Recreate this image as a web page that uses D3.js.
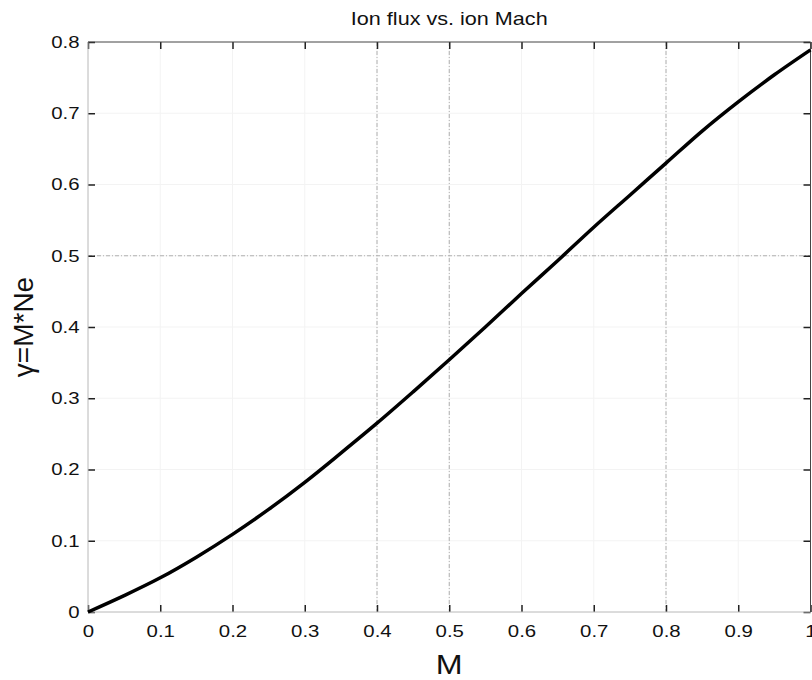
<!DOCTYPE html>
<html>
<head>
<meta charset="utf-8">
<script src="https://cdn.jsdelivr.net/npm/d3@7"></script>
<style>
  body { margin: 0; background: #fff; }
  text { font-family: "Liberation Sans", Arial, sans-serif; fill: #111; }
</style>
</head>
<body>
<div id="chart"></div>
<script>
// Ion flux vs. ion Mach number
const machValues = [0, 0.05, 0.1, 0.15, 0.2, 0.25, 0.3, 0.35, 0.4, 0.45, 0.5,
  0.55, 0.6, 0.65, 0.7, 0.75, 0.8, 0.85, 0.9, 0.95, 1.0];
const fluxValues = [0, 0.023, 0.048, 0.077, 0.109, 0.144, 0.182, 0.223, 0.265, 0.309, 0.354,
  0.400, 0.447, 0.493, 0.540, 0.585, 0.630, 0.675, 0.716, 0.754, 0.789];
const xTicks = [0, 0.1, 0.2, 0.3, 0.4, 0.5, 0.6, 0.7, 0.8, 0.9, 1];
const yTicks = [0, 0.1, 0.2, 0.3, 0.4, 0.5, 0.6, 0.7, 0.8];
// grid lines that still show in the scan
const gridX = [0.4, 0.5, 0.8];
const gridY = [0.5];

const width = 812, height = 680;
const margin = { top: 42, right: 1.5, bottom: 68, left: 88 };
const w = width - margin.left - margin.right;
const h = height - margin.top - margin.bottom;

const svg = d3.select('#chart')
  .append('svg')
  .attr('width', width)
  .attr('height', height);

const g = svg.append('g')
  .attr('transform', `translate(${margin.left},${margin.top})`);

const x = d3.scaleLinear().domain([0, 1]).range([0, w]);
const y = d3.scaleLinear().domain([0, 0.8]).range([h, 0]);

// faint grid everywhere, darker where it is visible
g.append('g').selectAll('line')
  .data(xTicks.slice(1, -1))
  .join('line')
  .attr('x1', d => x(d)).attr('x2', d => x(d))
  .attr('y1', 0).attr('y2', h)
  .attr('stroke', '#f3f3f3');
g.append('g').selectAll('line')
  .data(yTicks.slice(1, -1))
  .join('line')
  .attr('x1', 0).attr('x2', w)
  .attr('y1', d => y(d)).attr('y2', d => y(d))
  .attr('stroke', '#f3f3f3');

g.append('g').selectAll('line')
  .data(gridX)
  .join('line')
  .attr('x1', d => x(d)).attr('x2', d => x(d))
  .attr('y1', 0).attr('y2', h)
  .attr('stroke', '#b0b0b0')
  .attr('stroke-dasharray', '4,2,1,2');
g.append('g').selectAll('line')
  .data(gridY)
  .join('line')
  .attr('x1', 0).attr('x2', w)
  .attr('y1', d => y(d)).attr('y2', d => y(d))
  .attr('stroke', '#b0b0b0')
  .attr('stroke-dasharray', '4,2,1,2');

// axes with inward ticks
const fmt = d => d === 0 || d === 1 ? String(d) : d3.format('.1f')(d);

const xAxis = g.append('g')
  .attr('transform', `translate(0,${h})`)
  .call(d3.axisBottom(x).tickValues(xTicks).tickFormat(fmt)
    .tickSizeInner(-7).tickSizeOuter(0).tickPadding(13));
xAxis.selectAll('text')
  .attr('font-size', 17)
  .attr('transform', 'scale(1.2,1)');

const yAxis = g.append('g')
  .call(d3.axisLeft(y).tickValues(yTicks).tickFormat(fmt)
    .tickSizeInner(-7).tickSizeOuter(0).tickPadding(7));
yAxis.selectAll('text')
  .attr('font-size', 17)
  .attr('transform', 'scale(1.2,1)');

g.append('g')
  .call(d3.axisTop(x).tickValues(xTicks).tickFormat('')
    .tickSizeInner(-7).tickSizeOuter(0));
g.append('g')
  .attr('transform', `translate(${w},0)`)
  .call(d3.axisRight(y).tickValues(yTicks).tickFormat('')
    .tickSizeInner(-7).tickSizeOuter(0));

g.selectAll('.tick line').attr('stroke', '#222').attr('stroke-width', 1.5);
g.selectAll('.domain').remove();

// frame: left/bottom pale, top/right darker
g.append('line').attr('x1', 0).attr('x2', 0).attr('y1', 0).attr('y2', h)
  .attr('stroke', '#b8b8b8');
g.append('line').attr('x1', 0).attr('x2', w).attr('y1', h).attr('y2', h)
  .attr('stroke', '#b8b8b8');
g.append('line').attr('x1', 0).attr('x2', w).attr('y1', 0).attr('y2', 0)
  .attr('stroke', '#444');
g.append('line').attr('x1', w).attr('x2', w).attr('y1', 0).attr('y2', h)
  .attr('stroke', '#444');

// curve
const line = d3.line()
  .x((d, i) => x(machValues[i]))
  .y(d => y(d))
  .curve(d3.curveMonotoneX);

g.append('path')
  .datum(fluxValues)
  .attr('fill', 'none')
  .attr('stroke', '#000')
  .attr('stroke-width', 3.5)
  .attr('stroke-linejoin', 'round')
  .attr('d', line);

// labels
svg.append('text')
  .attr('transform', `translate(${margin.left + w / 2},25) scale(1.2,1)`)
  .attr('text-anchor', 'middle')
  .attr('font-size', 18)
  .text('Ion flux vs. ion Mach');

svg.append('text')
  .attr('transform', `translate(${margin.left + w / 2},674) scale(1.15,1)`)
  .attr('text-anchor', 'middle')
  .attr('font-size', 28)
  .text('M');

svg.append('text')
  .attr('transform', `translate(33,${margin.top + h / 2}) rotate(-90)`)
  .attr('text-anchor', 'middle')
  .attr('font-size', 28)
  .text('γ=M*Ne');
</script>
</body>
</html>
